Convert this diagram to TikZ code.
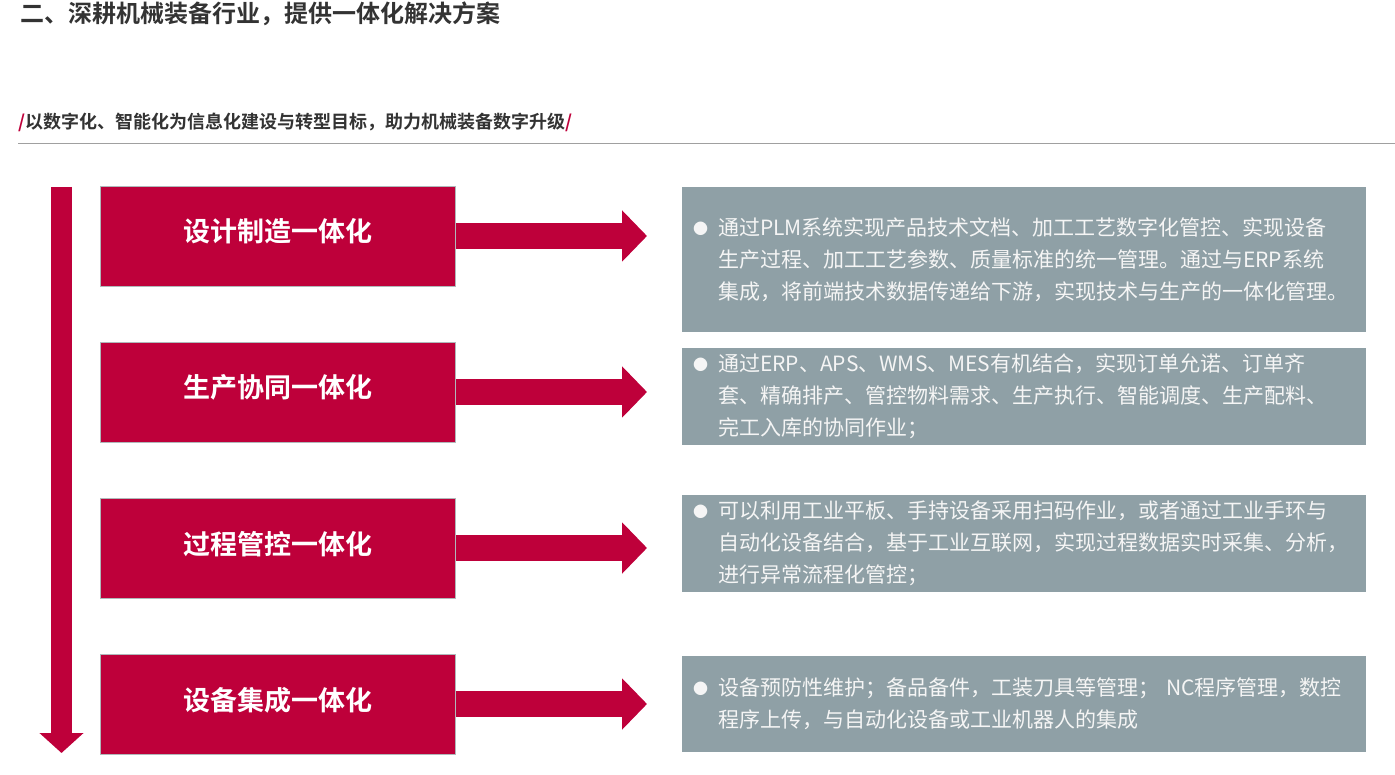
\documentclass[tikz,border=0pt]{standalone}
\usepackage{fontspec}
\setmainfont{Noto Sans CJK SC}[BoldFont={Noto Sans CJK SC Bold}]
\usetikzlibrary{positioning,arrows.meta}
\definecolor{stagered}{RGB}{190,0,58}
\definecolor{notegray}{RGB}{143,160,166}
\definecolor{edgegray}{RGB}{176,184,186}
\definecolor{headgray}{RGB}{51,51,51}
\definecolor{rulegray}{RGB}{160,160,160}
\definecolor{notetext}{RGB}{245,245,245}
\tikzset{
  stage/.style={draw=edgegray, fill=stagered, text=white, line width=0.8pt,
                minimum width=355pt, minimum height=100pt, inner sep=0pt,
                text height=20pt, text depth=8pt,
                font=\fontsize{27}{27}\selectfont\bfseries},
  note/.style={fill=notegray, text=notetext, anchor=west, align=left,
               text width=662pt, inner xsep=11pt, inner ysep=0pt,
               minimum width=684pt, font=\fontsize{21}{32}\selectfont},
  flow/.style={stagered, line width=26pt, -{Triangle[length=25pt, width=50pt]}},
}
\newcommand{\pt}{\makebox[25pt][l]{\raisebox{1pt}{\fontsize{15}{15}\selectfont ●}}}
\newcommand{\ind}{\hspace*{25pt}}
\begin{document}
\begin{tikzpicture}[x=1pt, y=-1pt]
  \useasboundingbox (0,0) rectangle (1395,775);
  % heading
  \node[anchor=west, inner sep=0pt, text=headgray, font=\fontsize{24}{24}\selectfont\bfseries]
    (title) at (20,14) {二、深耕机械装备行业，提供一体化解决方案};
  \node[anchor=west, inner sep=0pt, text=headgray, font=\fontsize{18}{18}\selectfont\bfseries]
    (subtitle) at (18,122) {\textcolor{stagered}{/}以数字化、智能化为信息化建设与转型目标，助力机械装备数字升级\textcolor{stagered}{/}};
  \draw[rulegray, line width=1pt] (18,144) -- (1395,144);
  % main flow
  \coordinate (flowtop) at (61.5,187);
  \coordinate (flowend) at (61.5,753);
  \draw[stagered, line width=21pt, -{Triangle[length=20pt, width=43pt]}] (flowtop) -- (flowend);
  % stages
  \node[stage] (design) at (278,236) {设计制造一体化};
  \node[stage, below=55.2pt of design] (prod) {生产协同一体化};
  \node[stage, below=55.2pt of prod] (proc) {过程管控一体化};
  \node[stage, below=55.2pt of proc] (equip) {设备集成一体化};
  % notes
  \node[note, minimum height=145pt] (designtxt) at (682,259.5)
    {\pt 通过PLM系统实现产品技术文档、加工工艺数字化管控、实现设备\\
     \ind 生产过程、加工工艺参数、质量标准的统一管理。通过与ERP系统\\
     \ind 集成，将前端技术数据传递给下游，实现技术与生产的一体化管理。};
  \node[note, minimum height=97pt] (prodtxt) at (682,396.5)
    {\pt 通过ERP、APS、WMS、MES有机结合，实现订单允诺、订单齐\\
     \ind 套、精确排产、管控物料需求、生产执行、智能调度、生产配料、\\
     \ind 完工入库的协同作业；};
  \node[note, minimum height=97pt] (proctxt) at (682,543.5)
    {\pt 可以利用工业平板、手持设备采用扫码作业，或者通过工业手环与\\
     \ind 自动化设备结合，基于工业互联网，实现过程数据实时采集、分析，\\
     \ind 进行异常流程化管控；};
  \node[note, minimum height=96pt] (equiptxt) at (682,704)
    {\pt 设备预防性维护；备品备件，工装刀具等管理； NC程序管理，数控\\
     \ind 程序上传，与自动化设备或工业机器人的集成};
  % links
  \draw[flow, shorten >=35pt] (design.east) -- (design.east -| designtxt.west);
  \draw[flow, shorten >=35pt] (prod.east) -- (prod.east -| prodtxt.west);
  \draw[flow, shorten >=35pt] (proc.east) -- (proc.east -| proctxt.west);
  \draw[flow, shorten >=35pt] (equip.east) -- (equip.east -| equiptxt.west);
\end{tikzpicture}
\end{document}
